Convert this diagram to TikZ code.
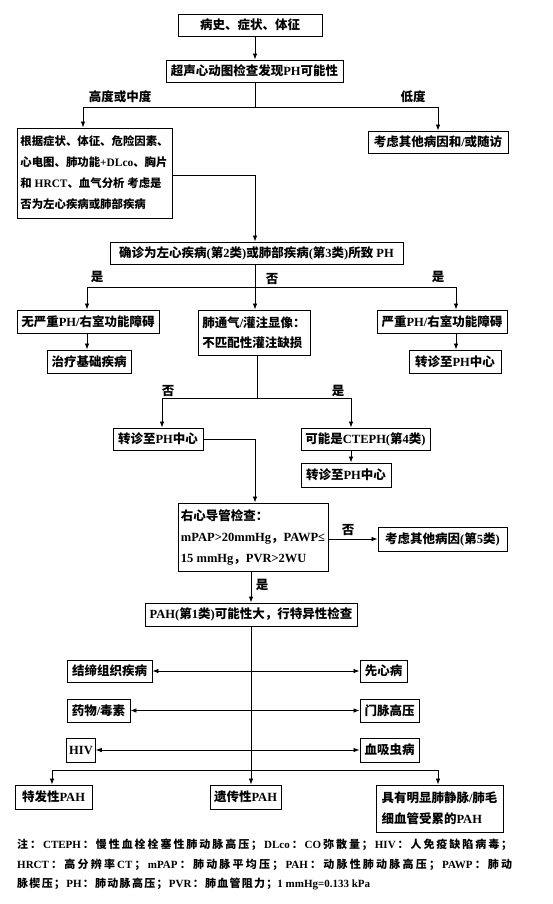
\documentclass[tikz,border=0pt]{standalone}
\usepackage{fontspec}
\usetikzlibrary{arrows.meta}
\setmainfont{Liberation Serif}
\newfontfamily\cjkf{Noto Sans CJK SC}
\newfontfamily\latf{Liberation Serif}
\XeTeXinterchartokenstate=1
\newXeTeXintercharclass\CJKcls
\count255="3000
\loop\ifnum\count255<"3040 \XeTeXcharclass\count255=\CJKcls \advance\count255 by 1 \repeat
\count255="4E00
\loop\ifnum\count255<"A000 \XeTeXcharclass\count255=\CJKcls \advance\count255 by 1 \repeat
\count255="FF00
\loop\ifnum\count255<"FFF0 \XeTeXcharclass\count255=\CJKcls \advance\count255 by 1 \repeat
\XeTeXinterchartoks 0 \CJKcls = {\hskip0pt plus 1pt\cjkf}
\XeTeXinterchartoks 4095 \CJKcls = {\cjkf}
\XeTeXinterchartoks \CJKcls 0 = {\hskip0pt plus 1pt\latf}
\XeTeXinterchartoks \CJKcls 4095 = {\latf}
\XeTeXinterchartoks \CJKcls \CJKcls = {\hskip0pt plus 1pt}
\begin{document}
\begin{tikzpicture}[x=1pt,y=-1pt,
  box/.style={draw, line width=0.9pt, inner sep=2.5pt, font=\fontsize{12.5}{15}\selectfont\bfseries},
  lbl/.style={inner sep=0pt, font=\fontsize{12.5}{15}\selectfont\bfseries},
  ln/.style={line width=0.8pt},
  arr/.style={line width=0.8pt, -{Latex[length=6pt,width=4.5pt]}},
  darr/.style={line width=0.8pt, {Latex[length=6pt,width=4.5pt]}-{Latex[length=6pt,width=4.5pt]}},
  note/.style={anchor=west, inner sep=0pt, font=\fontsize{11}{13}\selectfont\bfseries}]
\fill[white] (0,0) rectangle (552,904);
\useasboundingbox (0,0) rectangle (552,904);

% nodes
\node[box, minimum width=144pt, minimum height=22pt] (b1) at (250,25) {病史、症状、体征};
\node[box, minimum width=177pt, minimum height=22pt] (b2) at (254.5,71) {超声心动图检查发现PH可能性};
\node[box, minimum width=155pt, minimum height=90pt, align=left, font=\fontsize{11.4}{21}\selectfont\bfseries] (b3) at (94.5,173)
  {根据症状、体征、危险因素、\\心电图、肺功能+DLco、胸片\\和 HRCT、血气分析 考虑是\\否为左心疾病或肺部疾病};
\node[box, minimum width=140pt, minimum height=22pt] (b4) at (438,142) {考虑其他病因和/或随访};
\node[box, minimum width=293pt, minimum height=22pt] (b5) at (256.5,253) {确诊为左心疾病(第2类)或肺部疾病(第3类)所致 PH};
\node[box, minimum width=142pt, minimum height=23pt] (b6) at (88,321.5) {无严重PH/右室功能障碍};
\node[box, minimum width=112pt, minimum height=45pt, align=left, font=\fontsize{12.5}{20}\selectfont\bfseries] (b7) at (254,332.5) {肺通气/灌注显像：\\不匹配性灌注缺损};
\node[box, minimum width=130pt, minimum height=23pt] (b8) at (442,321.5) {严重PH/右室功能障碍};
\node[box, minimum width=84pt, minimum height=23pt] (b9) at (89,361.5) {治疗基础疾病};
\node[box, minimum width=92pt, minimum height=23pt] (b10) at (455,361.5) {转诊至PH中心};
\node[box, minimum width=90pt, minimum height=22pt] (b11) at (158,439) {转诊至PH中心};
\node[box, minimum width=129pt, minimum height=22pt] (b12) at (365.5,439) {可能是CTEPH(第4类)};
\node[box, minimum width=90pt, minimum height=24pt] (b13) at (346,475) {转诊至PH中心};
\node[box, minimum width=150pt, minimum height=68pt, align=left, font=\fontsize{12.5}{21}\selectfont\bfseries] (b14) at (253,537)
  {右心导管检查：\\mPAP>20mmHg，PAWP≤\\15 mmHg，PVR>2WU};
\node[box, minimum width=129pt, minimum height=24pt] (b15) at (442.5,539) {考虑其他病因(第5类)};
\node[box, minimum width=212pt, minimum height=23pt] (b16) at (251,614.5) {PAH(第1类)可能性大，行特异性检查};
\node[box, minimum width=85pt, minimum height=22pt] (l1) at (109.5,671) {结缔组织疾病};
\node[box, minimum width=47pt, minimum height=22pt] (r1) at (383.5,671) {先心病};
\node[box, minimum width=63pt, minimum height=23pt] (l2) at (98.5,710.5) {药物/毒素};
\node[box, minimum width=59pt, minimum height=23pt] (r2) at (389.5,710.5) {门脉高压};
\node[box, minimum width=28pt, minimum height=24pt] (l3) at (81,750) {HIV};
\node[box, minimum width=59pt, minimum height=24pt] (r3) at (389.5,750) {血吸虫病};
\node[box, minimum width=77pt, minimum height=24pt] (f1) at (53.5,797) {特发性PAH};
\node[box, minimum width=71pt, minimum height=24pt] (f2) at (245.5,797) {遗传性PAH};
\node[box, minimum width=127pt, minimum height=47pt, align=left, font=\fontsize{12.5}{21}\selectfont\bfseries] (f3) at (439.5,808.5) {具有明显肺静脉/肺毛\\细血管受累的PAH};

% labels
\node[lbl] (t1) at (120,97) {高度或中度};
\node[lbl] (t2) at (413,97) {低度};
\node[lbl] (t3) at (97,277) {是};
\node[lbl] (t4) at (272,279) {否};
\node[lbl] (t5) at (438,277) {是};
\node[lbl] (t6) at (168,391) {否};
\node[lbl] (t7) at (338,391) {是};
\node[lbl] (t8) at (348,530) {否};
\node[lbl] (t9) at (262,585) {是};

% coordinates
\coordinate (s1) at (255,0);
\coordinate (j1) at (255,107);
\coordinate (j1l) at (83,107);
\coordinate (j1r) at (438,107);
\coordinate (k1) at (255,175);
\coordinate (j2) at (255,287);
\coordinate (j2l) at (87,287);
\coordinate (j2r) at (456,287);
\coordinate (j3) at (257,398);
\coordinate (j3l) at (162,398);
\coordinate (j3r) at (351,398);
\coordinate (k2) at (255,439);
\coordinate (s3) at (251,0);
\coordinate (j4) at (251,770);
\coordinate (j4l) at (52,770);
\coordinate (j4r) at (438,770);

% connectors
\draw[arr] (b1.south -| s1) -- (b2.north -| s1);
\draw[ln] (b2.south -| s1) -- (j1);
\draw[arr] (j1) -- (j1l) -- (b3.north -| j1l);
\draw[arr] (j1) -- (j1r) -- (b4.north -| j1r);
\draw[arr] (b3.east |- k1) -- (k1) -- (b5.north -| k1);
\draw[arr] (b5.south -| j2) -- (b7.north -| j2);
\draw[arr] (j2) -- (j2l) -- (b6.north -| j2l);
\draw[arr] (j2) -- (j2r) -- (b8.north -| j2r);
\draw[arr] (b6.south -| j2l) -- (b9.north -| j2l);
\draw[arr] (b8.south -| j2r) -- (b10.north -| j2r);
\draw[ln] (b7.south -| j3) -- (j3);
\draw[arr] (j3) -- (j3l) -- (b11.north -| j3l);
\draw[arr] (j3) -- (j3r) -- (b12.north -| j3r);
\draw[arr] (b12.south -| j3r) -- (b13.north -| j3r);
\draw[arr] (b11.east) -- (k2) -- (b14.north -| k2);
\draw[arr] (b15.west -| b14.east) -- (b15.west);
\draw[arr] (b14.south -| s3) -- (b16.north -| s3);
\draw[arr] (b16.south -| j4) -- (f2.north -| j4);
\draw[arr] (j4) -- (j4l) -- (f1.north -| j4l);
\draw[arr] (j4) -- (j4r) -- (f3.north -| j4r);
\draw[darr] (l1.east) -- (r1.west);
\draw[darr] (l2.east) -- (r2.west);
\draw[darr] (l3.east) -- (r3.west);

% notes
\node[note] (n1) at (17,845) {\makebox[495pt][s]{注：CTEPH：慢性血栓栓塞性肺动脉高压；DLco：CO弥散量；HIV：人免疫缺陷病毒；}};
\node[note] (n2) at (17,865) {\makebox[495pt][s]{HRCT：高分辨率CT；mPAP：肺动脉平均压；PAH：动脉性肺动脉高压；PAWP：肺动}};
\node[note] (n3) at (17,884) {\makebox[353pt][s]{脉楔压；PH：肺动脉高压；PVR：肺血管阻力；\hbox{1 mmHg=0.133 kPa}}};
\end{tikzpicture}
\end{document}
